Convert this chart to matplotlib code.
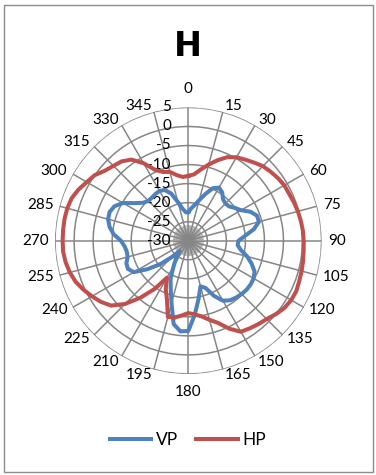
import numpy as np
import matplotlib.pyplot as plt
from matplotlib.patches import Rectangle

# azimuth in degrees, 5 degree steps
angles = np.arange(0, 360, 5)

vp = [-22.5, -21.5, -20.5, -19.0, -17.0, -14.8, -13.9, -14.5, -15.8, -16.2,
      -16.0, -15.0, -14.0, -12.0, -10.8, -10.8, -12.5, -15.0, -16.8, -17.0,
      -16.0, -14.0, -12.3, -10.8, -10.2, -10.0, -10.0, -10.2, -10.5, -10.9,
      -11.8, -14.0, -16.8, -17.6, -14.5, -10.5, -6.3, -6.1, -7.8, -13.0,
      -16.5, -19.0, -22.3, -24.5, -26.5, -24.0, -20.5, -17.0, -13.5, -12.5,
      -12.7, -13.5, -13.6, -13.2, -12.3, -10.3, -9.0, -8.2, -8.0, -8.6,
      -10.2, -12.8, -14.5, -15.2, -15.2, -15.0, -14.9, -15.3, -16.8, -19.5,
      -21.5, -22.5]

hp = [-13.0, -12.5, -11.0, -9.3, -7.5, -5.8, -4.7, -4.0, -3.2, -2.3,
      -1.8, -1.3, -0.9, -0.8, -0.5, -0.2, 0.0, 0.2, 0.3, 0.4,
      0.6, 0.8, 1.0, 1.3, 1.2, 0.8, 0.0, -0.9, -1.4, -1.9,
      -2.4, -4.5, -7.0, -8.5, -9.8, -10.6, -11.0, -10.3, -9.5, -9.3,
      -13.6, -16.0, -18.8, -14.5, -10.5, -6.5, -3.5, -2.0, -0.8, 0.4,
      1.5, 2.2, 2.7, 3.0, 3.0, 3.0, 3.0, 2.9, 2.6, 1.8,
      0.8, 0.0, -1.4, -2.2, -2.8, -4.0, -6.5, -9.5, -10.8, -11.3,
      -12.5, -13.2]

axis_labels = [str(a) for a in range(0, 360, 15)]
r_ticks = [5, 0, -5, -10, -15, -20, -25, -30]

blue = '#4F81BD'
red = '#C0504D'
grid_c = '#868686'

plt.rcParams['font.family'] = ['Lato', 'DejaVu Sans']

fig = plt.figure(figsize=(3.76, 4.75), dpi=100)
fig.patches.append(Rectangle((4 / 376, 3 / 475), 369 / 376, 467 / 475,
                             transform=fig.transFigure, fill=False,
                             edgecolor='#8c8c8c', linewidth=1.0))

ax = fig.add_axes([0.1463, 0.2126, 0.709, 0.5613], projection='polar')
ax.set_theta_zero_location('N')
ax.set_theta_direction(-1)
ax.set_ylim(-30, 5)
ax.grid(False)
ax.set_xticks([])
ax.set_yticks([])
ax.spines['polar'].set_visible(False)
ax.patch.set_visible(False)

# polygon rings
ring_t = np.deg2rad(np.arange(0, 361, 5))
for r in r_ticks[:-1]:
    ax.plot(ring_t, np.full(ring_t.shape, r), color=grid_c, lw=1.1, zorder=1)

# short spokes around the centre
for a in np.arange(0, 360, 5):
    t = np.deg2rad(a)
    ax.plot([t, t], [-30, -26], color=grid_c, lw=0.5, zorder=1)

# main spokes and angle labels
for lab in axis_labels:
    a = int(lab)
    t = np.deg2rad(a)
    ax.plot([t, t], [-30, 5], color=grid_c, lw=1.1, zorder=1)
    s, c = np.sin(t), np.cos(t)
    if a in (0, 180):
        pad, ha = 13.0, 'center'
    else:
        pad = 4.5
        ha = 'left' if a < 180 else 'right'
    ax.annotate(lab, xy=(t, 5), xytext=(pad * s, pad * c),
                textcoords='offset points', ha=ha, va='center',
                fontsize=11, color='black', annotation_clip=False)

# radial value labels along the 0 spoke
for r in r_ticks:
    ax.annotate(str(r), xy=(0, r), xytext=(-12.5, 0),
                textcoords='offset points', ha='right', va='center',
                fontsize=11, color='black', annotation_clip=False)

th = np.deg2rad(np.append(angles, 360))
ax.plot(th, vp + vp[:1], color=blue, lw=2.9, label='VP', zorder=3,
        solid_joinstyle='round')
ax.plot(th, hp + hp[:1], color=red, lw=2.9, label='HP', zorder=3,
        solid_joinstyle='round')

fig.text(0.5, 1 - 46 / 475, 'H', ha='center', va='center',
         fontsize=24, fontweight='bold', family='DejaVu Sans')

fig.legend(loc='center', bbox_to_anchor=(0.5, 1 - 440 / 475), ncol=2,
           frameon=False, fontsize=12.5, handlelength=2.4, handletextpad=0.3,
           columnspacing=1.0)

fig.savefig('out.png', dpi=100)
